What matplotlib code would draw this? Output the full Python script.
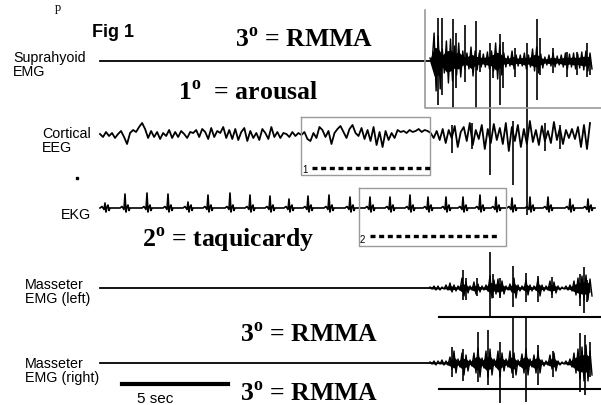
import numpy as np
import matplotlib.pyplot as plt

plt.rcParams['mathtext.fontset'] = 'custom'
plt.rcParams['mathtext.rm'] = 'Liberation Serif:bold'
plt.rcParams['mathtext.bf'] = 'Liberation Serif:bold'

# ---- data (x in px along the record, amplitudes in px) ----
# suprahyoid EMG burst: dense core (up, down) and single tall spikes
supra_core_up = [3, 28, 25, 12, 20, 22, 15, 18, 10, 8, 14, 10, 8, 7, 9, 10, 18, 16, 8, 5,
                 10, 6, 6, 8, 6, 12, 14, 7, 4, 6, 8, 5, 6, 8, 7, 8, 7, 9, 10, 8]
supra_core_dn = [3, 30, 28, 12, 22, 20, 14, 16, 8, 8, 15, 9, 6, 6, 8, 10, 18, 14, 6, 5,
                 8, 5, 5, 8, 6, 10, 12, 7, 4, 5, 6, 4, 6, 8, 6, 8, 7, 9, 10, 8]
supra_spk_x = [438, 442, 453, 456, 465, 476, 480, 490, 493, 500, 503, 515, 527, 537, 540, 553, 567, 577, 587, 590]
supra_spk_up = [43, 43, 42, 28, 36, 40, 11, 18, 6, 27, 19, 13, 18, 42, 23, 13, 9, 9, 18, 4]
supra_spk_dn = [44, 34, 47, 27, 21, 47, 11, 114, 17, 44, 27, 16, 154, 39, 14, 12, 16, 14, 16, 14]

# cortical EEG, one value every ~3 px
eeg_vals = [1, -2, 3, -1, 2, -3, 1, 4, -2, -9,
            2, 5, 3, 8, 12, 6, -3, 4, -2, 3,
            -4, 2, -1, 5, -3, 3, -2, 4, 1, -3,
            3, 2, 5, -2, 6, 3, -4, 7, -2, 4,
            2, 8, -3, 5, -4, 6, -5, 3, 7, -6,
            4, -3, 2, -5, 6, 2, -4, 8, -2, 3,
            -3, 2, 1, -2, 3, -1, 2, 0, 3, -4,
            -6, 2, -3, 8, 5, -2, 4, -9, 2, 6,
            9, 3, -3, 6, 10, 2, -1, 7, -4, 5,
            -6, 8, -10, 3, -12, 4, -5, 2, -3, 5,
            3, 4, 2, 5, 3, 4, 6, 3, 5, 4,
            2, -3, 4, -5, 6, -8, 5, -3, 9, -12,
            3, 8, -6, 12, -10, 5, -4, 10, -14, 6,
            -8, 11, -5, 7, -9, 12, -16, 8, -6, 10,
            -12, 6, -9, 14, -7, 5, -10, 9, -6, 4,
            -8, 13, -5, 7, -9, 5, -3, 6, -4, 8,
            -12, 10, -14, 12]
eeg_spk_x = [452, 472, 513, 545, 560]
eeg_spk_up = [10, 12, 14, 12, 10]
eeg_spk_dn = [18, 14, 50, 16, 14]

# EKG: R-peak positions and heights
ekg_beats = [105, 125, 147, 168, 188, 208, 230, 250, 270, 289, 308, 329, 350,
             370, 390, 410, 428, 446, 463, 480, 496, 512, 530, 548, 570, 588]
ekg_r = [5, 14, 15, 14, 6, 13, 15, 13, 12, 9, 12, 13, 11,
         11, 11, 13, 11, 11, 11, 13, 11, 10, 11, 11, 9, 9]

# masseter EMG (left)
mass_l_core_up = [1, 2, 2, 1, 3, 5, 3, 2, 10, 6, 2, 6, 4, 2, 3, 12, 8, 9, 7, 2, 4,
                  10, 3, 2, 8, 3, 2, 9, 3, 2, 7, 6, 2, 1, 2, 3, 7, 10, 12, 13, 9]
mass_l_core_dn = [1, 2, 2, 1, 2, 4, 3, 2, 8, 5, 2, 6, 4, 2, 3, 10, 6, 8, 6, 2, 4,
                  10, 3, 2, 7, 3, 2, 8, 3, 2, 6, 5, 2, 1, 2, 3, 7, 10, 12, 12, 8]
mass_l_spk_x = [463, 466, 477, 490, 493, 500, 513, 526, 538, 552, 580, 584, 587]
mass_l_spk_up = [18, 10, 10, 36, 14, 10, 22, 15, 12, 11, 14, 21, 8]
mass_l_spk_dn = [12, 12, 8, 29, 10, 10, 19, 14, 14, 10, 18, 25, 14]

# masseter EMG (right)
mass_r_core_up = [1, 2, 2, 3, 2, 6, 12, 4, 10, 8, 3, 10, 15, 5, 12, 14, 4, 12, 10, 4, 12,
                  10, 3, 9, 14, 4, 8, 12, 3, 2, 8, 10, 2, 1, 2, 4, 10, 14, 16, 18, 12]
mass_r_core_dn = [1, 2, 1, 2, 2, 6, 10, 4, 12, 8, 3, 10, 14, 5, 14, 12, 4, 14, 8, 4, 10,
                  12, 3, 10, 12, 4, 10, 10, 3, 2, 6, 8, 2, 1, 2, 4, 10, 16, 18, 18, 12]
mass_r_spk_x = [452, 463, 478, 488, 500, 513, 526, 538, 553, 580, 585, 590]
mass_r_spk_up = [16, 14, 31, 33, 21, 46, 46, 18, 12, 30, 28, 21]
mass_r_spk_dn = [14, 18, 19, 22, 40, 15, 39, 22, 14, 29, 32, 14]

# ---- figure in pixel coordinates ----
fig = plt.figure(figsize=(6.01, 4.05), dpi=100)
ax = fig.add_axes([0, 0, 1, 1])
ax.set_xlim(0, 601)
ax.set_ylim(405, 0)
ax.axis('off')

k = 'black'
grey = '#9a9a9a'
x0, x1 = 100, 590
burst_x0 = 430


def emg(base, flat_end, core_up, core_dn, spk_x, spk_up, spk_dn):
    ax.plot([x0, flat_end], [base, base], color=k, lw=1.3)
    cx = np.linspace(burst_x0, x1, len(core_up))
    up = np.array(core_up)
    dn = np.array(core_dn)
    ax.fill_between(cx, base - 0.5 * up, base + 0.5 * dn, color=k, lw=0)
    zx = np.column_stack([cx, cx + 2]).ravel()
    zy = np.column_stack([base - up, base + dn]).ravel()
    ax.plot(zx, zy, color=k, lw=1.0)
    ax.vlines(spk_x, base - np.array(spk_up), base + np.array(spk_dn), color=k, lw=1.2)


# suprahyoid
emg(61, 435, supra_core_up, supra_core_dn, supra_spk_x, supra_spk_up, supra_spk_dn)
ax.plot([425, 425, 601], [10, 108, 108], color=grey, lw=1.2)

# EEG
eeg_base = 135
ex = np.linspace(x0, x1, len(eeg_vals))
ax.plot(ex, eeg_base - np.array(eeg_vals), color=k, lw=1.3)
ax.vlines(eeg_spk_x, eeg_base - np.array(eeg_spk_up), eeg_base + np.array(eeg_spk_dn), color=k, lw=1.2)

# EKG
ekg_base = 208
tpl_dx = [-5, -3, -1, 0, 1, 2, 3, 4, 5, 7]
tpl_dy = [0, 1.5, -1.5, None, -4, 1, 3, -2.5, 0, 0]
kx, ky = [x0], [0]
for bx, h in zip(ekg_beats, ekg_r):
    for dx, dy in zip(tpl_dx, tpl_dy):
        kx.append(bx + dx)
        ky.append(h if dy is None else dy)
ax.plot(kx, ekg_base - np.array(ky), color=k, lw=1.2)

# masseters
emg(288, 435, mass_l_core_up, mass_l_core_dn, mass_l_spk_x, mass_l_spk_up, mass_l_spk_dn)
ax.plot([439, 601], [317, 317], color=k, lw=1.5)
emg(363, 435, mass_r_core_up, mass_r_core_dn, mass_r_spk_x, mass_r_spk_up, mass_r_spk_dn)
ax.plot([439, 601], [389, 389], color=k, lw=1.5)

# boxes with dotted markers
ax.plot([301, 430, 430, 301, 301], [117, 117, 175, 175, 117], color=grey, lw=1.0)
ax.plot([312, 433], [168, 168], color=k, lw=2.4, ls=(0, (1.5, 1.1)))
ax.text(302, 173, '1', fontsize=7, family='Liberation Sans', va='baseline')
ax.plot([359, 506, 506, 359, 359], [188, 188, 246, 246, 188], color=grey, lw=1.0)
ax.plot([370, 500], [236, 236], color=k, lw=2.4, ls=(0, (1.5, 1.1)))
ax.text(360, 243, '2', fontsize=7, family='Liberation Sans', va='baseline')

# scale bar
ax.plot([122, 228], [384, 384], color=k, lw=3)
ax.text(137, 403, '5 sec', fontsize=11, family='Liberation Sans', va='baseline')

# labels (y = baseline of last line)
lab = dict(fontsize=10.3, family='Liberation Sans', va='baseline', linespacing=1.0)
ax.text(13, 76, 'Suprahyoid\nEMG', **lab)
ax.text(42, 152, 'Cortical\nEEG', **lab)
ax.text(61, 219, 'EKG', **lab)
ax.text(25, 303, 'Masseter\nEMG (left)', **lab)
ax.text(25, 382, 'Masseter\nEMG (right)', **lab)
ax.text(92, 37, 'Fig 1', fontsize=13, family='Liberation Sans', weight='bold', va='baseline')
ax.plot([77], [178], 's', color=k, ms=1.5)
ax.text(55, 11, 'p', fontsize=9, family='Liberation Serif', va='baseline')

big = dict(fontsize=18.5, family='Liberation Serif', weight='bold', va='baseline')
ax.text(235, 47, r'3$^{\mathbf{o}}$ = RMMA', **big)
ax.text(178, 100, r'1$^{\mathbf{o}}$  = arousal', **big)
ax.text(142, 247, r'2$^{\mathbf{o}}$ = taquicardy', **big)
ax.text(240, 342, r'3$^{\mathbf{o}}$ = RMMA', **big)
ax.text(240, 401, r'3$^{\mathbf{o}}$ = RMMA', **big)

fig.savefig('out.png', dpi=100)
